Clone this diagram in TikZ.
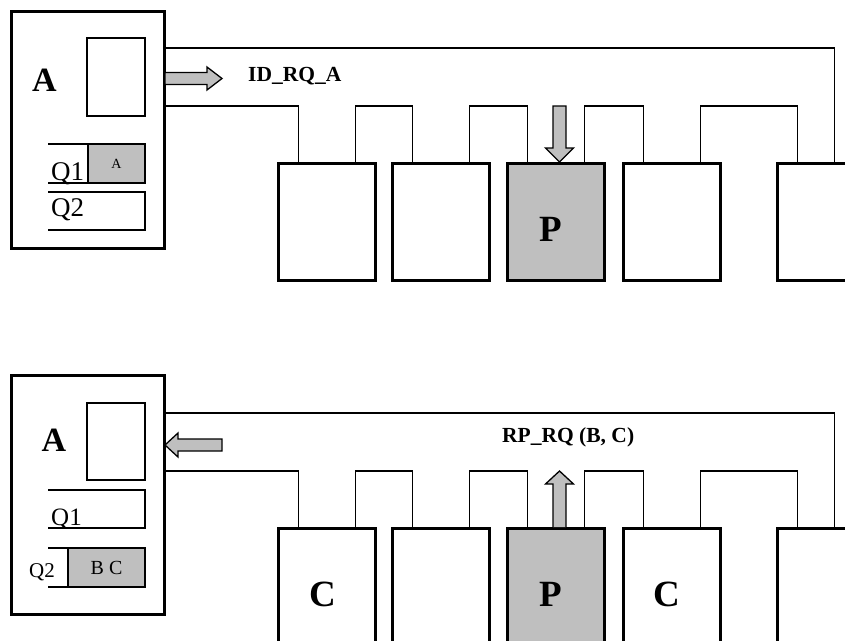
\documentclass[tikz,border=0pt]{standalone}
\usepackage{fontspec}
\setmainfont{Liberation Serif}
\usetikzlibrary{positioning}

\begin{document}
\begin{tikzpicture}[
	x=1pt, y=-1pt,
	node distance=17pt,
	host/.style={rectangle, draw, line width=3pt, outer sep=0pt, minimum width=153pt},
	regbox/.style={rectangle, draw, line width=1.2pt, outer sep=0pt, minimum width=58pt, minimum height=78pt},
	station/.style={rectangle, draw, line width=3pt, outer sep=0pt, minimum width=97pt, minimum height=117pt, inner sep=0pt},
	busy/.style={station, fill=gray!50},
	slot/.style={rectangle, draw, line width=1.2pt, fill=gray!50, outer sep=0pt, minimum height=39pt, inner sep=0pt},
	bus/.style={line width=1.3pt},
	flow/.style={draw, line width=1.3pt, fill=gray!50, line join=miter},
	big/.style={font=\bfseries\fontsize{34}{36}\selectfont, inner sep=0pt},
	letter/.style={font=\bfseries\fontsize{37}{40}\selectfont, inner sep=0pt},
	msg/.style={font=\bfseries\fontsize{21.5}{23}\selectfont, inner sep=0pt, anchor=west},
	qlabel/.style={inner sep=0pt, anchor=base west}
]
\useasboundingbox (0,0) rectangle (845,640);
\clip (0,0) rectangle (845,640);

% --- Top: identification request ---
\node[host, minimum height=237pt] (hostA) at (88,130) {};
\node[regbox] (regA) at (116,77) {};
\node[big] (nameA) at (44.5,80) {A};
\draw[bus] (48,144) -| (145,183) -- (48,183);
\node[slot, minimum width=57pt] (q1A) at (116.5,163.5) {\fontsize{14}{16}\selectfont A};
\node[qlabel, font=\fontsize{27}{29}\selectfont] (q1lab) at (51,180) {Q1};
\draw[bus] (48,192) -| (145,230) -- (48,230);
\node[qlabel, font=\fontsize{27}{29}\selectfont] (q2lab) at (51,216) {Q2};

% --- Top: ring stations ---
\node[station] (t1) at (327,221.5) {};
\node[station, right=of t1] (t2) {};
\node[busy, right=18pt of t2] (t3) {};
\node[station, right=19pt of t3] (t4) {};
\node[station, right=57pt of t4] (t5) {};
\node[letter] (t3lab) at ([xshift=-5pt,yshift=-7.5pt]t3.center) {P};

% --- Top: bus ---
\draw[bus] ([xshift=57pt]t5.north west) -- ++(0,-115) coordinate (tt) -- (tt -| hostA.east);
\draw[bus] ([xshift=20pt]t1.north west) -- ++(0,-57) coordinate (tm) -- (tm -| hostA.east);
\foreach \a/\b in {t1/t2,t2/t3,t3/t4,t4/t5}
	\draw[bus] ([xshift=-20pt]\a.north east) -- ++(0,-57) -| ([xshift=20pt]\b.north west);
\node[msg] (idrq) at (248,76) {ID\_RQ\_A};

% --- Top: messages ---
\draw[flow] (165,72.5) -- (207,72.5) -- (207,67) -- (222,78.5) -- (207,90) -- (207,84.5) -- (165,84.5) -- cycle;
\draw[flow] (553,106) -- (566,106) -- (566,148) -- (573.5,148) -- (559.5,162) -- (545.5,148) -- (553,148) -- cycle;

% --- Bottom: reply ---
\node[host, minimum height=239pt] (hostB) at (88,495) {};
\node[regbox, minimum height=77pt] (regB) at (116,441.5) {};
\node[big] (nameB) at (54,440) {A};
\draw[bus] (48,490) -| (145,528) -- (48,528);
\node[qlabel, font=\fontsize{25}{27}\selectfont] (q1labB) at (51,525) {Q1};
\draw[bus] (48,548) -| (145,587) -- (48,587);
\node[slot, minimum width=77pt] (q2B) at (106.5,567.5) {\fontsize{20}{22}\selectfont B C};
\node[qlabel, font=\fontsize{21}{23}\selectfont] (q2labB) at (29,577) {Q2};

% --- Bottom: ring stations ---
\node[station, below=248pt of t1] (b1) {};
\node[station, right=of b1] (b2) {};
\node[busy, right=18pt of b2] (b3) {};
\node[station, right=19pt of b3] (b4) {};
\node[station, right=57pt of b4] (b5) {};
\node[letter] (b1lab) at ([xshift=-4pt,yshift=-7.5pt]b1.center) {C};
\node[letter] (b3lab) at ([xshift=-5pt,yshift=-7.5pt]b3.center) {P};
\node[letter] (b4lab) at ([xshift=-5pt,yshift=-7.5pt]b4.center) {C};

% --- Bottom: bus ---
\draw[bus] ([xshift=57pt]b5.north west) -- ++(0,-115) coordinate (bt) -- (bt -| hostB.east);
\draw[bus] ([xshift=20pt]b1.north west) -- ++(0,-57) coordinate (bm) -- (bm -| hostB.east);
\foreach \a/\b in {b1/b2,b2/b3,b3/b4,b4/b5}
	\draw[bus] ([xshift=-20pt]\a.north east) -- ++(0,-57) -| ([xshift=20pt]\b.north west);
\node[msg] (rprq) at (502,437) {RP\_RQ (B, C)};

% --- Bottom: messages ---
\draw[flow] (222,439) -- (178,439) -- (178,433) -- (165,445) -- (178,457) -- (178,451) -- (222,451) -- cycle;
\draw[flow] (553,527) -- (553,484) -- (545.5,484) -- (559.5,471) -- (573.5,484) -- (566,484) -- (566,527);

\end{tikzpicture}
\end{document}
